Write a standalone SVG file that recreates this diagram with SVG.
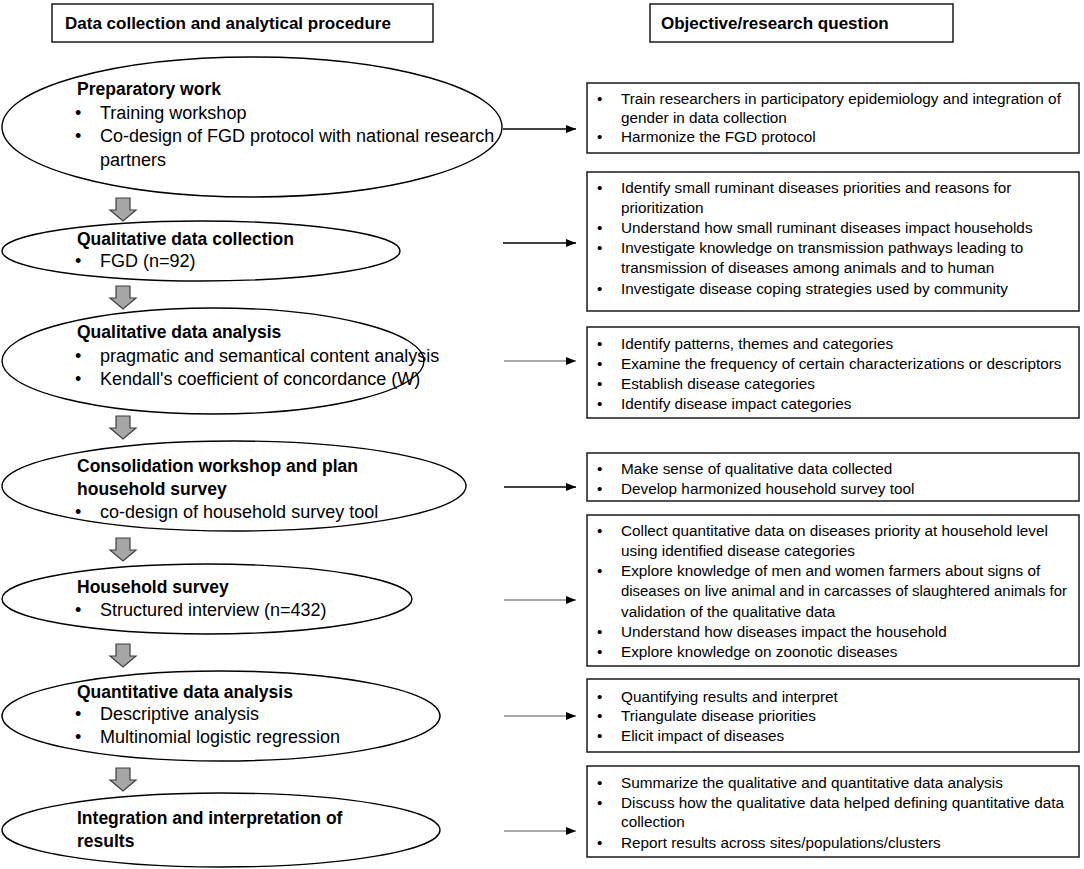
<svg xmlns="http://www.w3.org/2000/svg" width="1084" height="869" viewBox="0 0 1084 869">
<defs>
<style>
text{font-family:"Liberation Sans",Arial,sans-serif;fill:#000}
.h{font-size:17px;font-weight:bold}
.lt{font-size:17.5px;font-weight:bold}
.l{font-size:18px}
.r{font-size:15.3px}
.box{fill:#fff;stroke:#1a1a1a;stroke-width:1.5}
.ell{fill:#fff;stroke:#000;stroke-width:1.4}
.dn{fill:#a6a6a6;stroke:#3f3f3f;stroke-width:1.2}
.con{stroke:#000;stroke-width:1.3;fill:none}
.con2{stroke:#555;stroke-width:1.2;fill:none}
</style>
<marker id="ah" viewBox="0 0 10 8" refX="10" refY="4" markerWidth="10" markerHeight="8" markerUnits="userSpaceOnUse" orient="auto">
<path d="M0,0 L10,4 L0,8 Z" fill="#000"/>
</marker>
<path id="down" d="M6,0 H20 V12 H26 L13,23 L0,12 H6 Z"/>
</defs>
<rect width="1084" height="869" fill="#fff"/>

<g id="header-left">
<rect class="box" x="52" y="4" width="381" height="38"/>
<text class="h" x="65" y="29">Data collection and analytical procedure</text>
</g>
<g id="header-right">
<rect class="box" x="650" y="4" width="303" height="38"/>
<text class="h" x="661" y="29">Objective/research question</text>
</g>

<g id="step1">
<ellipse class="ell" cx="252" cy="127" rx="250" ry="70"/>
<text class="lt" x="77" y="95">Preparatory work</text>
<text class="l" x="75" y="118.5">•</text><text class="l" x="100" y="118.5">Training workshop</text>
<text class="l" x="75" y="142">•</text><text class="l" x="100" y="142">Co-design of FGD protocol with national research</text>
<text class="l" x="100" y="165.5">partners</text>
</g>
<g id="step2">
<ellipse class="ell" cx="201" cy="251" rx="199" ry="30"/>
<text class="lt" x="77" y="245">Qualitative data collection</text>
<text class="l" x="75" y="267">•</text><text class="l" x="100" y="267">FGD (n=92)</text>
</g>
<g id="step3">
<ellipse class="ell" cx="213" cy="361" rx="211" ry="53"/>
<text class="lt" x="77" y="338">Qualitative data analysis</text>
<text class="l" x="75" y="361.5">•</text><text class="l" x="100" y="361.5">pragmatic and semantical content analysis</text>
<text class="l" x="75" y="385">•</text><text class="l" x="100" y="385">Kendall's coefficient of concordance (W)</text>
</g>
<g id="step4">
<ellipse class="ell" cx="234" cy="486" rx="232" ry="45"/>
<text class="lt" x="77" y="472">Consolidation  workshop and plan</text>
<text class="lt" x="77" y="495">household  survey</text>
<text class="l" x="75" y="518">•</text><text class="l" x="100" y="518">co-design of household survey tool</text>
</g>
<g id="step5">
<ellipse class="ell" cx="207" cy="599" rx="205" ry="35"/>
<text class="lt" x="77" y="593">Household  survey</text>
<text class="l" x="75" y="616">•</text><text class="l" x="100" y="616">Structured interview (n=432)</text>
</g>
<g id="step6">
<ellipse class="ell" cx="221" cy="716" rx="219" ry="45"/>
<text class="lt" x="77" y="698">Quantitative data analysis</text>
<text class="l" x="75" y="720">•</text><text class="l" x="100" y="720">Descriptive analysis</text>
<text class="l" x="75" y="743">•</text><text class="l" x="100" y="743">Multinomial logistic regression</text>
</g>
<g id="step7">
<ellipse class="ell" cx="221" cy="830" rx="219" ry="37"/>
<text class="lt" x="77" y="824">Integration and interpretation of</text>
<text class="lt" x="77" y="847">results</text>
</g>

<g id="obj1">
<rect class="box" x="587" y="83" width="492" height="70"/>
<text class="r" x="597" y="104">•</text><text class="r" x="621" y="104">Train researchers in participatory epidemiology and integration of</text>
<text class="r" x="621" y="123">gender in data collection</text>
<text class="r" x="597" y="142">•</text><text class="r" x="621" y="142">Harmonize the FGD protocol</text>
</g>
<g id="obj2">
<rect class="box" x="587" y="172" width="492" height="139"/>
<text class="r" x="597" y="193">•</text><text class="r" x="621" y="193">Identify small ruminant diseases priorities and reasons for</text>
<text class="r" x="621" y="213">prioritization</text>
<text class="r" x="597" y="233">•</text><text class="r" x="621" y="233">Understand how small ruminant diseases impact households</text>
<text class="r" x="597" y="253">•</text><text class="r" x="621" y="253">Investigate knowledge on transmission pathways leading to</text>
<text class="r" x="621" y="273">transmission of diseases among animals and to human</text>
<text class="r" x="597" y="294">•</text><text class="r" x="621" y="294">Investigate disease coping strategies used by community</text>
</g>
<g id="obj3">
<rect class="box" x="587" y="327" width="492" height="91"/>
<text class="r" x="597" y="349">•</text><text class="r" x="621" y="349">Identify patterns, themes and categories</text>
<text class="r" x="597" y="369">•</text><text class="r" x="621" y="369">Examine the frequency of certain characterizations or descriptors</text>
<text class="r" x="597" y="389">•</text><text class="r" x="621" y="389">Establish disease categories</text>
<text class="r" x="597" y="409">•</text><text class="r" x="621" y="409">Identify disease impact categories</text>
</g>
<g id="obj4">
<rect class="box" x="587" y="453" width="492" height="48"/>
<text class="r" x="597" y="474">•</text><text class="r" x="621" y="474">Make sense of qualitative data collected</text>
<text class="r" x="597" y="494">•</text><text class="r" x="621" y="494">Develop harmonized household survey tool</text>
</g>
<g id="obj5">
<rect class="box" x="587" y="515" width="492" height="151"/>
<text class="r" x="597" y="536">•</text><text class="r" x="621" y="536">Collect quantitative data on diseases priority at household level</text>
<text class="r" x="621" y="556">using identified disease categories</text>
<text class="r" x="597" y="576">•</text><text class="r" x="621" y="576">Explore knowledge of men and women farmers about signs of</text>
<text class="r" x="621" y="596" textLength="446" lengthAdjust="spacingAndGlyphs">diseases on live animal and in carcasses of slaughtered animals for</text>
<text class="r" x="621" y="617">validation of the qualitative data</text>
<text class="r" x="597" y="637">•</text><text class="r" x="621" y="637">Understand how diseases impact the household</text>
<text class="r" x="597" y="657">•</text><text class="r" x="621" y="657">Explore knowledge on zoonotic diseases</text>
</g>
<g id="obj6">
<rect class="box" x="587" y="679" width="492" height="73"/>
<text class="r" x="597" y="702">•</text><text class="r" x="621" y="702">Quantifying results and interpret</text>
<text class="r" x="597" y="721">•</text><text class="r" x="621" y="721">Triangulate disease priorities</text>
<text class="r" x="597" y="741">•</text><text class="r" x="621" y="741">Elicit impact of diseases</text>
</g>
<g id="obj7">
<rect class="box" x="587" y="766" width="492" height="91"/>
<text class="r" x="597" y="788">•</text><text class="r" x="621" y="788">Summarize the qualitative and quantitative data analysis</text>
<text class="r" x="597" y="808">•</text><text class="r" x="621" y="808">Discuss how the qualitative data helped defining quantitative data</text>
<text class="r" x="621" y="827">collection</text>
<text class="r" x="597" y="848">•</text><text class="r" x="621" y="848">Report results across sites/populations/clusters</text>
</g>

<g id="connectors">
<use href="#down" class="dn" x="110" y="198"/>
<use href="#down" class="dn" x="110" y="286"/>
<use href="#down" class="dn" x="110" y="416"/>
<use href="#down" class="dn" x="110" y="538"/>
<use href="#down" class="dn" x="110" y="644"/>
<use href="#down" class="dn" x="110" y="768"/>
<line class="con" x1="503" y1="129" x2="576" y2="129" marker-end="url(#ah)"/>
<line class="con" x1="503" y1="243" x2="576" y2="243" marker-end="url(#ah)"/>
<line class="con2" x1="504" y1="361" x2="576" y2="361" marker-end="url(#ah)"/>
<line class="con" x1="504" y1="487" x2="576" y2="487" marker-end="url(#ah)"/>
<line class="con2" x1="504" y1="600" x2="576" y2="600" marker-end="url(#ah)"/>
<line class="con2" x1="504" y1="716" x2="576" y2="716" marker-end="url(#ah)"/>
<line class="con2" x1="504" y1="831" x2="576" y2="831" marker-end="url(#ah)"/>
</g>
</svg>
